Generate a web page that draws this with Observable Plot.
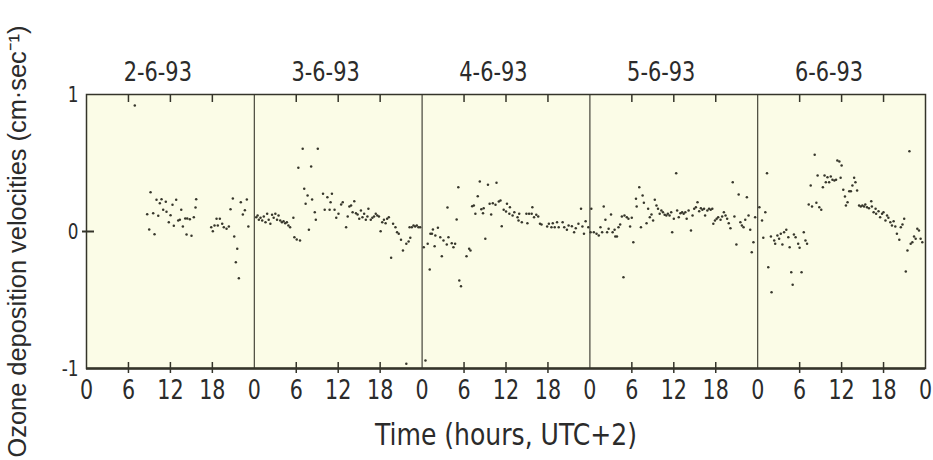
<!DOCTYPE html>
<html>
<head>
<meta charset="utf-8">
<script src="https://cdn.jsdelivr.net/npm/d3@7"></script>
<script src="https://cdn.jsdelivr.net/npm/@observablehq/plot@0.6"></script>
<style>
  html, body { margin: 0; padding: 0; background: #ffffff; }
  #chart svg { display: block; overflow: visible; }
</style>
</head>
<body>
<div id="chart"></div>
<script>
// ---- data: [hour of day, deposition velocity cm/s] ----
const dates = ["2-6-93", "3-6-93", "4-6-93", "5-6-93", "6-6-93"];
const yTicks = [-1, 0, 1];
const xTitle = "Time (hours, UTC+2)";
const yTitle = "Ozone deposition velocities (cm·sec⁻¹)";

const day1 = [
  [6.91,0.92],[8.68,0.126],[8.97,0.015],[9.16,0.287],[9.54,0.134],[9.73,-0.020],[10.01,0.231],[10.26,0.115],
  [10.49,0.207],[10.73,0.236],[10.97,0.158],[11.34,0.217],[11.44,0.144],[11.77,0.068],[12.02,0.119],[12.30,0.195],
  [12.49,0.042],[12.83,0.231],[13.12,0.080],[13.35,0.085],[13.55,0.158],[13.78,0.036],[14.12,0.095],[14.31,-0.022],
  [14.41,0.095],[14.78,0.090],[15.02,-0.031],[15.35,0.104],[15.59,0.175],[15.69,0.236],[17.84,0.031],[18.07,0.002],
  [18.31,0.044],[18.60,0.093],[18.78,0.044],[19.07,0.093],[19.41,0.056],[19.64,0.031],[20.03,0.020],[20.36,0.036],
  [20.60,0.163],[20.93,0.241],[21.13,-0.036],[21.36,-0.224],[21.56,-0.126],[21.79,-0.341],[22.07,0.214],[22.36,0.124],
  [22.65,0.155],[22.93,0.234],[23.15,0.036]
];

const day2 = [
  [0.28,0.104],[0.47,0.117],[0.65,0.085],[0.89,0.100],[1.13,0.080],[1.36,0.109],[1.60,0.068],[1.84,0.129],
  [2.06,0.085],[2.30,0.056],[2.54,0.122],[2.77,0.100],[3.01,0.129],[3.25,0.085],[3.47,0.117],[3.71,0.080],
  [3.95,0.068],[4.18,0.075],[4.42,0.061],[4.66,0.068],[4.88,0.044],[5.12,0.031],[5.59,0.100],[5.73,-0.042],
  [6.07,-0.058],[6.54,-0.066],[6.30,0.465],[6.92,0.604],[7.14,0.312],[7.34,0.202],[7.62,0.263],[7.81,0.012],
  [8.13,0.474],[8.27,0.234],[8.65,0.141],[8.80,0.085],[9.08,0.604],[9.83,0.275],[10.07,0.158],[10.45,0.250],
  [10.77,0.158],[10.91,0.214],[11.10,0.275],[11.48,0.158],[11.72,0.100],[12.04,0.129],[12.42,0.197],[12.65,0.214],
  [13.13,0.031],[13.36,0.109],[13.60,0.182],[13.84,0.190],[14.06,0.141],[14.30,0.221],[14.54,0.134],[14.77,0.124],
  [15.01,0.093],[15.25,0.153],[15.47,0.104],[15.71,0.129],[15.95,0.085],[16.18,0.109],[16.32,0.166],[16.66,0.085],
  [16.89,0.100],[17.13,0.109],[17.37,0.129],[17.59,0.117],[17.83,0.109],[18.07,0.002],[18.30,0.068],[18.54,0.085],
  [18.78,0.061],[19.00,0.093],[19.24,0.104],[19.57,-0.192],[19.85,0.056],[20.19,0.031],[20.42,-0.005],[20.66,-0.017],
  [20.98,-0.061],[21.26,-0.139],[21.74,-0.090],[21.74,-0.966],[22.07,-0.073],[22.21,0.031],[22.31,-0.046],[22.53,0.031],
  [22.77,0.044],[23.01,0.036],[23.24,0.044],[23.48,0.031],[23.72,0.031]
];

const day3 = [
  [0.24,-0.115],[0.48,-0.942],[0.80,-0.090],[1.09,-0.277],[1.19,-0.017],[1.41,-0.017],[1.55,0.015],[1.79,-0.107],
  [1.89,-0.029],[2.26,0.027],[2.60,-0.042],[2.82,-0.180],[3.06,-0.066],[3.53,-0.095],[3.63,0.175],[3.77,-0.042],
  [4.24,-0.085],[4.48,-0.115],[4.72,-0.090],[4.94,0.088],[5.18,0.323],[5.32,-0.358],[5.56,-0.399],[6.35,-0.180],
  [6.73,-0.126],[6.92,-0.139],[7.16,0.185],[7.40,0.190],[7.62,0.129],[7.96,0.258],[8.25,0.365],[8.47,0.163],
  [8.71,0.134],[8.81,0.170],[9.04,-0.053],[9.42,0.341],[9.66,0.202],[9.88,0.124],[10.11,0.207],[10.50,0.195],
  [10.64,0.355],[10.97,0.219],[11.21,0.226],[11.39,0.039],[11.67,0.158],[12.00,0.146],[12.14,0.202],[12.48,0.129],
  [12.56,0.177],[12.94,0.117],[13.19,0.141],[13.65,0.104],[13.79,0.080],[13.89,0.129],[14.26,0.068],[14.92,0.129],
  [15.06,0.061],[15.30,0.129],[15.67,0.129],[15.77,0.177],[16.01,0.104],[16.33,0.122],[16.61,0.109],[16.86,0.056],
  [17.08,0.051],[17.89,0.036],[18.13,0.056],[18.50,0.031],[18.69,0.061],[18.97,0.031],[19.30,0.068],[19.54,0.031],
  [20.10,0.068],[20.33,0.031],[20.71,0.012],[20.95,0.044],[21.42,0.039],[21.74,-0.005],[21.98,0.024],[22.36,0.056],
  [22.73,0.166],[22.93,0.036],[23.15,-0.017],[23.39,0.075],[23.77,0.031]
];

const day4 = [
  [0.10,-0.005],[0.20,0.166],[0.56,-0.005],[0.95,-0.017],[1.27,-0.029],[1.51,0.031],[1.75,-0.005],[1.98,0.182],
  [2.22,0.085],[2.46,-0.005],[2.68,0.020],[3.02,0.124],[3.25,-0.005],[3.53,0.012],[3.63,-0.036],[3.87,-0.036],
  [4.09,0.031],[4.33,0.051],[4.57,0.109],[4.80,-0.334],[4.94,0.117],[5.28,0.104],[5.51,0.093],[5.75,0.036],
  [5.99,0.100],[6.21,-0.078],[6.59,0.239],[6.69,0.182],[7.06,0.323],[7.30,0.031],[7.54,0.263],[7.72,0.209],
  [8.10,0.061],[8.33,0.166],[8.57,0.104],[8.81,0.124],[9.04,0.080],[9.28,0.231],[9.52,0.190],[9.74,0.166],
  [9.98,0.129],[10.22,0.153],[10.45,0.141],[10.69,0.122],[10.93,0.117],[11.15,0.129],[11.39,0.117],[11.63,0.141],
  [11.77,-0.005],[12.00,0.093],[12.34,0.426],[12.48,0.153],[12.71,0.104],[12.95,0.134],[13.19,0.141],[13.41,0.129],
  [13.65,0.141],[13.84,0.093],[14.12,0.153],[14.46,0.007],[14.68,0.117],[14.92,0.166],[15.16,0.177],[15.39,0.214],
  [15.63,0.148],[15.87,0.170],[16.09,0.158],[16.33,0.166],[16.48,0.117],[16.80,0.153],[17.04,0.166],[17.28,0.158],
  [17.51,0.166],[17.65,0.056],[17.89,0.080],[18.13,0.093],[18.35,0.104],[18.69,0.085],[18.92,0.109],[19.16,0.141],
  [19.40,0.117],[19.63,0.093],[19.86,0.061],[20.10,0.024],[20.43,0.360],[20.67,0.109],[20.95,-0.095],[21.28,0.270],
  [21.52,0.068],[21.74,0.044],[21.98,0.031],[22.22,0.085],[22.45,0.250],[22.69,0.117],[22.93,0.012],[23.15,-0.151],
  [23.39,-0.078],[23.63,0.104]
];

const day5 = [
  [0.24,0.177],[0.62,0.080],[0.80,-0.046],[1.09,0.141],[1.33,0.426],[1.51,-0.261],[1.89,-0.036],[1.98,-0.443],
  [2.36,-0.066],[2.50,-0.090],[2.82,-0.029],[3.06,-0.053],[3.30,-0.017],[3.53,-0.095],[3.77,-0.005],[4.09,0.012],
  [4.38,-0.042],[4.57,-0.115],[4.80,-0.297],[5.00,-0.389],[5.18,-0.022],[5.42,-0.042],[5.79,-0.090],[5.99,-0.119],
  [6.27,-0.297],[6.59,-0.005],[6.83,-0.066],[7.06,-0.090],[7.30,0.197],[7.58,0.336],[7.77,0.182],[8.15,0.560],
  [8.39,0.209],[8.57,0.409],[8.81,0.177],[9.09,0.158],[9.32,0.323],[9.56,0.409],[9.74,0.360],[9.98,0.396],
  [10.22,0.360],[10.45,0.401],[10.69,0.377],[10.97,0.372],[11.21,0.377],[11.39,0.518],[11.68,0.511],[11.86,0.392],
  [12.00,0.482],[12.24,0.304],[12.48,0.255],[12.62,0.190],[12.85,0.214],[13.09,0.294],[13.33,0.294],[13.55,0.336],
  [13.79,0.392],[13.98,0.360],[14.22,0.299],[14.50,0.190],[14.74,0.182],[14.97,0.190],[15.21,0.182],[15.39,0.197],
  [15.63,0.177],[15.91,0.170],[16.24,0.221],[16.33,0.182],[16.58,0.141],[16.86,0.166],[16.94,0.129],[17.28,0.148],
  [17.51,0.104],[17.79,0.129],[17.99,0.141],[18.27,0.080],[18.50,0.117],[18.69,0.100],[18.97,0.068],[19.20,0.044],
  [19.44,0.075],[19.68,0.036],[19.91,-0.017],[20.25,-0.061],[20.47,0.031],[20.71,0.051],[20.95,0.093],[21.18,-0.292],
  [21.42,-0.139],[21.70,0.586],[21.88,-0.090],[22.12,-0.078],[22.36,-0.036],[22.59,-0.053],[22.83,0.020],[23.07,0.007],
  [23.30,-0.053],[23.54,-0.078]
];

// ---- build table ----
const days = [day1, day2, day3, day4, day5];
const points = days.flatMap((arr, d) => arr.map(([h, v]) => ({t: 24 * d + h, v})));
const hourTicks = d3.range(0, 121, 6);
const minorTicks = hourTicks.filter(h => h % 24 !== 0);
const separators = hourTicks.filter(h => h % 24 === 0 && h > 0 && h < 120);

const W = 933, H = 460;
const mL = 86, mR = 8, mT = 94, mB = 92;
const frameH = H - mT - mB, frameW = W - mL - mR;
const ink = "#34342a";
const txt = "#2b2b2b";
const cond = "'Liberation Sans Narrow', 'DejaVu Sans Condensed', 'DejaVu Sans', sans-serif";
const regular = "'Liberation Sans', Arial, Helvetica, sans-serif";

const chart = Plot.plot({
  width: W,
  height: H,
  marginLeft: mL, marginRight: mR, marginTop: mT, marginBottom: mB,
  style: {background: "#ffffff", color: txt, overflow: "visible"},
  x: {domain: [0, 120]},
  y: {domain: [-1, 1]},
  marks: [
    Plot.frame({fill: "#fbfce7", stroke: null}),
    Plot.ruleX(separators, {stroke: ink, strokeWidth: 1.1}),
    Plot.dot(points, {x: "t", y: "v", r: 1.25, fill: "#37372c", stroke: null}),
    Plot.ruleX(minorTicks, {insetBottom: frameH - 8, stroke: ink, strokeWidth: 1.5}),
    Plot.ruleX(minorTicks, {insetTop: frameH - 6, insetBottom: -5, stroke: ink, strokeWidth: 1.5}),
    Plot.ruleY([0], {insetLeft: -4, insetRight: frameW - 8, stroke: ink, strokeWidth: 2}),
    Plot.frame({stroke: ink, strokeWidth: 1.5}),
    Plot.ruleY([-1], {stroke: ink, strokeWidth: 2.4}),
    Plot.axisX(hourTicks, {
      anchor: "bottom", tickSize: 0, tickPadding: 11, label: null,
      tickFormat: h => String(h % 24),
      fontSize: 27, fontFamily: cond, fill: txt
    }),
    Plot.axisY(yTicks, {
      anchor: "left", tickSize: 0, tickPadding: 8, label: null,
      tickFormat: d => String(d),
      fontSize: 22, fontFamily: cond, fill: txt
    }),
    Plot.text(dates, {
      x: (d, i) => 24 * i + 10.2, frameAnchor: "top", lineAnchor: "middle", dy: -22,
      text: d => d, fontSize: 27, fontFamily: cond, fill: txt
    }),
    Plot.text([xTitle], {
      frameAnchor: "bottom", lineAnchor: "middle", dy: 67, text: d => d,
      fontSize: 30, fontFamily: cond, fill: txt
    }),
    Plot.text([yTitle], {
      frameAnchor: "left", textAnchor: "middle", lineAnchor: "middle", dx: -69, dy: 10, rotate: -90, text: d => d,
      fontSize: 26, fontFamily: regular, fill: txt
    })
  ]
});
document.getElementById("chart").appendChild(chart);

// narrow the condensed-style labels horizontally (glyph compression, text stays text)
d3.select(chart).selectAll("text").each(function() {
  const s = this.textContent;
  const len = this.getComputedTextLength();
  if (!(len > 0)) return;
  let target;
  if (s === yTitle) target = Math.min(len, 432);
  else if (s === xTitle) target = len * 0.93;
  else if (dates.includes(s)) target = len * 0.86;
  else target = len * 0.85;
  this.setAttribute("textLength", target.toFixed(1));
  this.setAttribute("lengthAdjust", "spacingAndGlyphs");
});
</script>
</body>
</html>
